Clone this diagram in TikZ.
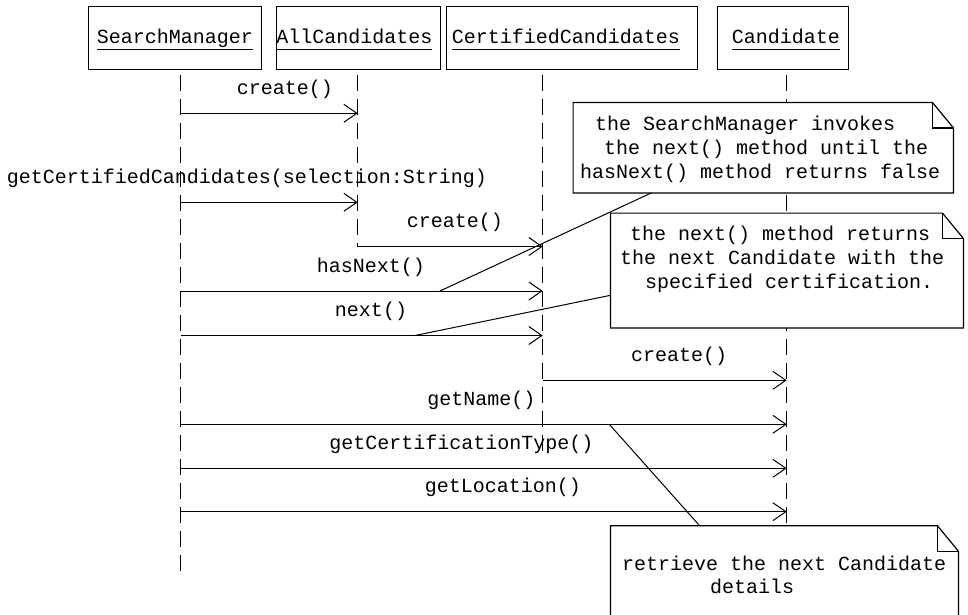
\documentclass[tikz,border=0pt]{standalone}
\usepackage{fontspec}
\setmainfont{Liberation Mono}
\usetikzlibrary{arrows.meta,calc}
\newcommand\dognote[1]{%
  \draw[noteline] (#1.north west) -- ([xshift=-21pt]#1.north east) -- ([yshift=-25.5pt]#1.north east) -- (#1.south east) -- (#1.south west) -- cycle;
  \draw[noteline] ([xshift=-21pt]#1.north east) |- ([yshift=-25.5pt]#1.north east);}
\newcommand\ulname[1]{\underline{\vphantom{g}#1}}
\begin{document}
\begin{tikzpicture}[x=1pt,y=-1pt,
  font=\fontsize{20}{24}\selectfont,
  objbox/.style={draw,line width=1.2pt,inner sep=0pt,minimum height=62.6pt,text height=18.6pt,text depth=8pt},
  life/.style={line width=1pt,dash pattern=on 16pt off 8pt},
  msg/.style={line width=1pt,-{Straight Barb[length=13pt,width=18pt,line width=1pt]}},
  lbl/.style={anchor=base,inner sep=0pt},
  notebox/.style={fill=white,inner sep=0pt},
  noteline/.style={line width=1.2pt},
  notetext/.style={anchor=base west,inner sep=0pt},
  link/.style={line width=1pt}]
\useasboundingbox (0,0) rectangle (968,614);
\clip (0,0) rectangle (968,614);

% objects
\node[objbox,minimum width=173.4pt] (sm) at (175,38) {\ulname{SearchManager}};
\node[objbox,minimum width=162pt] (ac) at (358.3,38) {\ulname{AllCandidates}\hspace*{8pt}};
\node[objbox,minimum width=250.6pt] (cc) at (572,38) {\ulname{CertifiedCandidates}\hspace*{12pt}};
\node[objbox,minimum width=131pt] (ca) at (782.8,38) {\hspace*{6pt}\ulname{Candidate}};

% lifelines
\coordinate (lsm) at (180.7,75);
\coordinate (lac) at (357.7,75);
\coordinate (lcc) at (542.7,75);
\coordinate (lca) at (786.7,75);
\coordinate (esm) at (180.7,571);
\coordinate (eac) at (357.7,246.5);
\coordinate (ecc) at (542.7,458);
\coordinate (eca) at (786.7,530);
\draw[life] (lsm) -- (esm);
\draw[life] (lac) -- (eac);
\draw[life] (lcc) -- (ecc);
\draw[life] (lca) -- (eca);

% message rows
\coordinate (r1) at (0,113.3);
\coordinate (r2) at (0,202.3);
\coordinate (r3) at (0,246.5);
\coordinate (r4) at (0,291);
\coordinate (r5) at (0,335.5);
\coordinate (r6) at (0,380.3);
\coordinate (r7) at (0,424.3);
\coordinate (r8) at (0,468.3);
\coordinate (r9) at (0,511.7);

\draw[msg] (lsm |- r1) -- (lac |- r1);
\draw[msg] (lsm |- r2) -- (lac |- r2);
\draw[msg] (lac |- r3) -- (lcc |- r3);
\draw[msg] (lsm |- r4) -- (lcc |- r4);
\draw[msg] (lsm |- r5) -- (lcc |- r5);
\draw[msg] (lcc |- r6) -- (lca |- r6);
\draw[msg] (lsm |- r7) -- (lca |- r7);
\draw[msg] (lsm |- r8) -- (lca |- r8);
\draw[msg] (lsm |- r9) -- (lca |- r9);

\node[lbl] (t1) at (285,94.3) {create()};
\node[lbl] (t2) at (247,183.3) {getCertifiedCandidates(selection:String)};
\node[lbl] (t3) at (455,227.5) {create()};
\node[lbl] (t4) at (371,272) {hasNext()};
\node[lbl] (t5) at (371,316.5) {next()};
\node[lbl] (t6) at (679,361.3) {create()};
\node[lbl] (t7) at (481.5,405.3) {getName()};
\node[lbl] (t8) at (461.5,449.3) {getCertificationType()};
\node[lbl] (t9) at (503,492.7) {getLocation()};

% notes
\node[notebox,minimum width=380pt,minimum height=90pt] (n1) at (763.3,147.7) {};
\dognote{n1}
\node[notetext] (n1a) at (595,130.5) {the SearchManager invokes};
\node[notetext] (n1b) at (604,154.5) {the next() method until the};
\node[notetext] (n1c) at (580,178.5) {hasNext() method returns false};

\node[notebox,minimum width=352.6pt,minimum height=114.4pt] (n2) at (787,270.5) {};
\dognote{n2}
\node[notetext] (n2a) at (630,240) {the next() method returns};
\node[notetext] (n2b) at (620,264) {the next Candidate with the};
\node[notetext] (n2c) at (645,288) {specified certification.};

\node[notebox,minimum width=347.6pt,minimum height=114pt] (n3) at (784.5,583) {};
\dognote{n3}
\node[notetext] (n3a) at (622,570) {retrieve the next Candidate};
\node[notetext] (n3b) at (710,593.5) {details};

% note links
\coordinate (k1) at (440,291);
\coordinate (k2) at (415,335.5);
\coordinate (k3) at (609.3,424.3);
\draw[link] (k1) -- (n1.202);
\draw[link] (k2) -- (n2.188);
\draw[link] (k3) -- (n3.146);
\end{tikzpicture}
\end{document}
